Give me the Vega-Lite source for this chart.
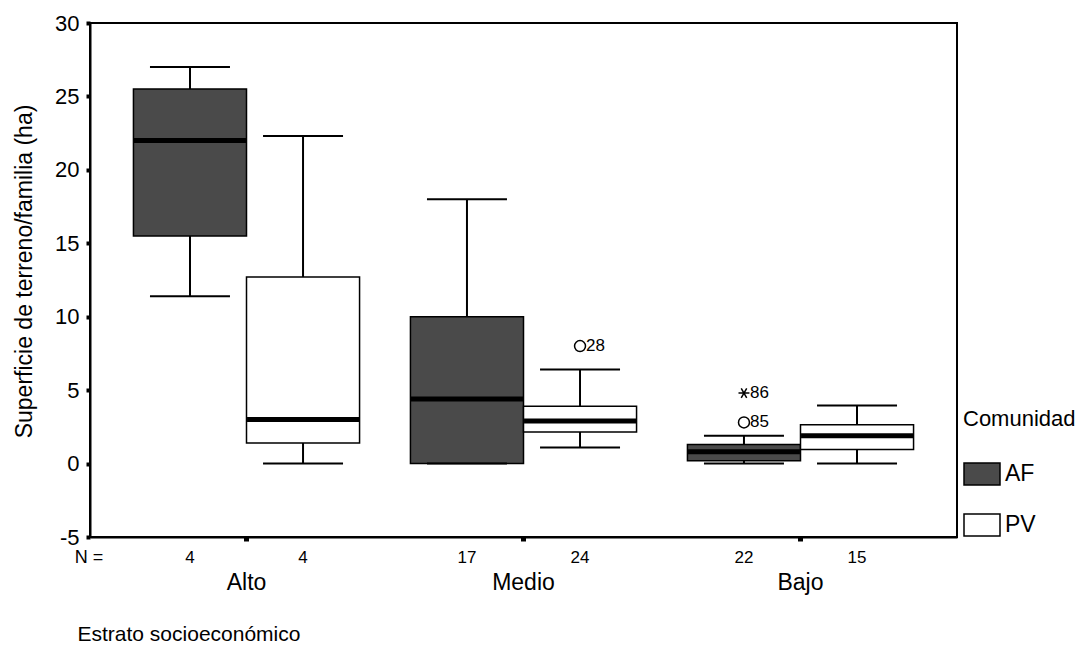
{
  "$schema": "https://vega.github.io/schema/vega-lite/v6.json",
  "width": 867,
  "height": 514,
  "autosize": "none",
  "padding": {"left": 90, "top": 23, "right": 126, "bottom": 116},
  "background": "white",
  "config": {
    "font": "Liberation Sans",
    "view": {"stroke": "black", "strokeWidth": 2},
    "axis": {"labelColor": "black", "titleColor": "black", "domainColor": "black", "tickColor": "black", "grid": false, "titleFontWeight": "normal", "labelFont": "Liberation Sans", "titleFont": "Liberation Sans"}
  },
  "datasets": {
    "boxes": [
      {"estrato": "Alto", "comunidad": "AF", "lower": 11.4, "q1": 15.5, "median": 22.0, "q3": 25.5, "upper": 27.0, "n": 4},
      {"estrato": "Alto", "comunidad": "PV", "lower": 0.0, "q1": 1.4, "median": 3.0, "q3": 12.7, "upper": 22.3, "n": 4},
      {"estrato": "Medio", "comunidad": "AF", "lower": 0.0, "q1": 0.0, "median": 4.4, "q3": 10.0, "upper": 18.0, "n": 17},
      {"estrato": "Medio", "comunidad": "PV", "lower": 1.1, "q1": 2.15, "median": 2.9, "q3": 3.9, "upper": 6.4, "n": 24},
      {"estrato": "Bajo", "comunidad": "AF", "lower": 0.0, "q1": 0.2, "median": 0.8, "q3": 1.3, "upper": 1.9, "n": 22},
      {"estrato": "Bajo", "comunidad": "PV", "lower": 0.0, "q1": 0.95, "median": 1.9, "q3": 2.65, "upper": 3.95, "n": 15}
    ],
    "outliers": [
      {"estrato": "Medio", "comunidad": "PV", "value": 8.0, "label": "28", "kind": "outlier"},
      {"estrato": "Bajo", "comunidad": "AF", "value": 2.8, "label": "85", "kind": "outlier"},
      {"estrato": "Bajo", "comunidad": "AF", "value": 4.8, "label": "86", "kind": "extreme"}
    ],
    "nlabel": [{"label": "N ="}]
  },
  "layer": [
    {
      "data": {"name": "boxes"},
      "mark": {"type": "rule", "stroke": "black", "strokeWidth": 2},
      "encoding": {
        "x": {"field": "estrato", "type": "nominal", "sort": ["Alto", "Medio", "Bajo"],
          "scale": {"domain": ["Alto", "Medio", "Bajo"], "paddingInner": 0, "paddingOuter": 0.065},
          "axis": {"title": "Estrato socioeconómico", "labelAngle": 0, "labelFontSize": 23, "labelPadding": 30, "tickSize": 4, "tickWidth": 5, "domainWidth": 2, "titleFontSize": 21, "titleX": -13, "titleY": 103, "titleAnchor": "start", "titleAlign": "left", "titleBaseline": "alphabetic", "bandPosition": 0.5}},
        "xOffset": {"field": "comunidad", "type": "nominal", "scale": {"domain": ["AF", "PV"], "paddingInner": 0, "paddingOuter": 0.225}},
        "y": {"field": "lower", "type": "quantitative", "title": "Superficie de terreno/familia (ha)",
          "scale": {"domain": [-5, 30], "nice": false, "zero": false},
          "axis": {"values": [-5, 0, 5, 10, 15, 20, 25, 30], "labelExpr": "'' + datum.value", "labelFontSize": 22, "tickSize": 4, "tickWidth": 4, "domainWidth": 2, "labelPadding": 7, "titleFontSize": 23, "titleX": -66, "titleY": 248, "titleAngle": 270, "titleAlign": "center", "titleBaseline": "middle"}},
        "y2": {"field": "upper"}
      }
    },
    {
      "data": {"name": "boxes"},
      "mark": {"type": "bar", "stroke": "black", "strokeWidth": 1.5},
      "encoding": {
        "x": {"field": "estrato", "type": "nominal", "sort": ["Alto", "Medio", "Bajo"], "scale": {"domain": ["Alto", "Medio", "Bajo"], "paddingInner": 0, "paddingOuter": 0.065}},
        "xOffset": {"field": "comunidad", "type": "nominal", "scale": {"domain": ["AF", "PV"], "paddingInner": 0, "paddingOuter": 0.225}},
        "y": {"field": "q1", "type": "quantitative", "title": "Superficie de terreno/familia (ha)", "scale": {"domain": [-5, 30], "nice": false, "zero": false}},
        "y2": {"field": "q3"},
        "color": {"field": "comunidad", "type": "nominal", "title": "Comunidad",
          "scale": {"domain": ["AF", "PV"], "range": ["#4a4a4a", "#ffffff"]},
          "legend": {"orient": "none", "legendX": 873, "legendY": 386, "titleFontSize": 22, "titleFontWeight": "normal", "titleColor": "black", "labelFontSize": 23, "labelColor": "black", "symbolType": "M-1,-0.611L1,-0.611L1,0.611L-1,0.611Z", "symbolSize": 1296, "symbolStrokeColor": "black", "symbolStrokeWidth": 1.5, "symbolOpacity": 1, "rowPadding": 18, "titlePadding": 24, "labelOffset": 4, "padding": 0}}
      }
    },
    {
      "data": {"name": "boxes"},
      "mark": {"type": "tick", "color": "black", "size": 80, "thickness": 2, "opacity": 1},
      "encoding": {
        "x": {"field": "estrato", "type": "nominal", "sort": ["Alto", "Medio", "Bajo"], "scale": {"domain": ["Alto", "Medio", "Bajo"], "paddingInner": 0, "paddingOuter": 0.065}},
        "xOffset": {"field": "comunidad", "type": "nominal", "scale": {"domain": ["AF", "PV"], "paddingInner": 0, "paddingOuter": 0.225}},
        "y": {"field": "lower", "type": "quantitative", "title": "Superficie de terreno/familia (ha)", "scale": {"domain": [-5, 30], "nice": false, "zero": false}}
      }
    },
    {
      "data": {"name": "boxes"},
      "mark": {"type": "tick", "color": "black", "size": 80, "thickness": 2, "opacity": 1},
      "encoding": {
        "x": {"field": "estrato", "type": "nominal", "sort": ["Alto", "Medio", "Bajo"], "scale": {"domain": ["Alto", "Medio", "Bajo"], "paddingInner": 0, "paddingOuter": 0.065}},
        "xOffset": {"field": "comunidad", "type": "nominal", "scale": {"domain": ["AF", "PV"], "paddingInner": 0, "paddingOuter": 0.225}},
        "y": {"field": "upper", "type": "quantitative", "title": "Superficie de terreno/familia (ha)", "scale": {"domain": [-5, 30], "nice": false, "zero": false}}
      }
    },
    {
      "data": {"name": "boxes"},
      "mark": {"type": "tick", "color": "black", "size": 112, "thickness": 5, "opacity": 1},
      "encoding": {
        "x": {"field": "estrato", "type": "nominal", "sort": ["Alto", "Medio", "Bajo"], "scale": {"domain": ["Alto", "Medio", "Bajo"], "paddingInner": 0, "paddingOuter": 0.065}},
        "xOffset": {"field": "comunidad", "type": "nominal", "scale": {"domain": ["AF", "PV"], "paddingInner": 0, "paddingOuter": 0.225}},
        "y": {"field": "median", "type": "quantitative", "title": "Superficie de terreno/familia (ha)", "scale": {"domain": [-5, 30], "nice": false, "zero": false}}
      }
    },
    {
      "data": {"name": "outliers"},
      "mark": {"type": "point", "filled": false, "stroke": "black", "strokeWidth": 1.5, "size": 120, "opacity": 1},
      "encoding": {
        "x": {"field": "estrato", "type": "nominal", "sort": ["Alto", "Medio", "Bajo"], "scale": {"domain": ["Alto", "Medio", "Bajo"], "paddingInner": 0, "paddingOuter": 0.065}},
        "xOffset": {"field": "comunidad", "type": "nominal", "scale": {"domain": ["AF", "PV"], "paddingInner": 0, "paddingOuter": 0.225}},
        "y": {"field": "value", "type": "quantitative", "title": "Superficie de terreno/familia (ha)", "scale": {"domain": [-5, 30], "nice": false, "zero": false}},
        "shape": {"field": "kind", "type": "nominal", "scale": {"domain": ["outlier", "extreme"], "range": ["circle", "M-1,0L1,0M-0.5,-0.866L0.5,0.866M-0.5,0.866L0.5,-0.866"]}, "legend": null}
      }
    },
    {
      "data": {"name": "outliers"},
      "mark": {"type": "text", "align": "left", "baseline": "middle", "dx": 6, "fontSize": 17, "color": "black"},
      "encoding": {
        "x": {"field": "estrato", "type": "nominal", "sort": ["Alto", "Medio", "Bajo"], "scale": {"domain": ["Alto", "Medio", "Bajo"], "paddingInner": 0, "paddingOuter": 0.065}},
        "xOffset": {"field": "comunidad", "type": "nominal", "scale": {"domain": ["AF", "PV"], "paddingInner": 0, "paddingOuter": 0.225}},
        "y": {"field": "value", "type": "quantitative", "title": "Superficie de terreno/familia (ha)", "scale": {"domain": [-5, 30], "nice": false, "zero": false}},
        "text": {"field": "label"}
      }
    },
    {
      "data": {"name": "boxes"},
      "mark": {"type": "text", "align": "center", "baseline": "middle", "fontSize": 17, "color": "black"},
      "encoding": {
        "x": {"field": "estrato", "type": "nominal", "sort": ["Alto", "Medio", "Bajo"], "scale": {"domain": ["Alto", "Medio", "Bajo"], "paddingInner": 0, "paddingOuter": 0.065}},
        "xOffset": {"field": "comunidad", "type": "nominal", "scale": {"domain": ["AF", "PV"], "paddingInner": 0, "paddingOuter": 0.225}},
        "y": {"datum": -6.4, "type": "quantitative", "scale": {"domain": [-5, 30], "nice": false, "zero": false}},
        "text": {"field": "n"}
      }
    },
    {
      "data": {"name": "nlabel"},
      "mark": {"type": "text", "align": "center", "baseline": "middle", "fontSize": 18, "color": "black"},
      "encoding": {
        "x": {"value": -1},
        "y": {"datum": -6.4, "type": "quantitative", "scale": {"domain": [-5, 30], "nice": false, "zero": false}},
        "text": {"field": "label"}
      }
    }
  ]
}
